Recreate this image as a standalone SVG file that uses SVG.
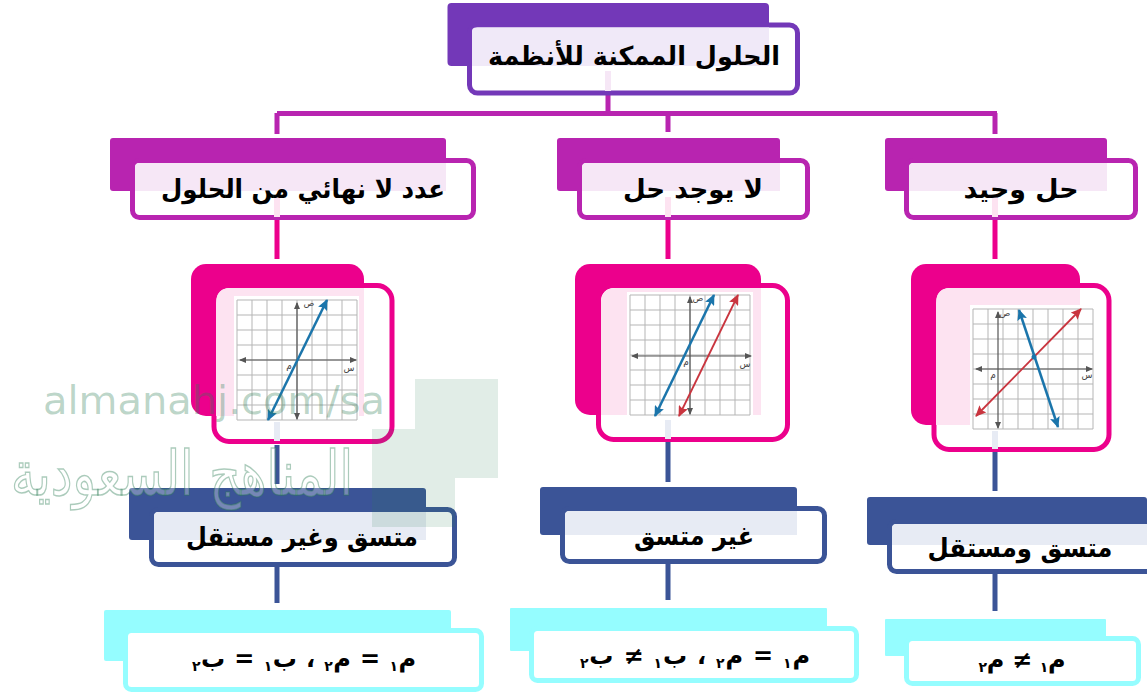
<svg xmlns="http://www.w3.org/2000/svg" width="1147" height="694" viewBox="0 0 1147 694">
<style>
text{font-family:"DejaVu Sans",sans-serif;font-weight:700;fill:#000;text-anchor:middle;direction:rtl}
.lbl{font-size:26px}
.eq{font-size:24px}
.sub{font-size:14px}
.p{fill:#7338b8}.pt{fill:#f0e9f8}.ps{stroke:#7338b8}
.m{fill:#b824b0}.mt{fill:#f6e7f6}.ms{stroke:#b824b0}
.k{fill:#ec008c}.kt{fill:#fde3f1}.ks{stroke:#ec008c}
.b{fill:#3b5497}.bt{fill:#e7ebf4}.bs{stroke:#3b5497}
.c{fill:#95fdff}.cs{stroke:#95fdff}
.fr{fill:#fff;stroke-width:5}
.conn{fill:none;stroke-width:5}
.grid{stroke:#b5b5b5;stroke-width:1;fill:none}
.axis{stroke:#555;stroke-width:1.2;fill:none;marker-start:url(#ga);marker-end:url(#ga)}
.lb{stroke:#1b75ab;stroke-width:2.500;fill:none;marker-start:url(#ba);marker-end:url(#ba)}
.lr{stroke:#c9353f;stroke-width:1.800;fill:none;marker-start:url(#ra);marker-end:url(#ra)}
.gl{font-size:9px;fill:#444;font-weight:400}
</style>
<defs>
<marker id="ga" markerWidth="8" markerHeight="6" refX="6" refY="3" orient="auto-start-reverse" markerUnits="userSpaceOnUse"><path d="M0 0L7 3L0 6z" fill="#555"/></marker>
<marker id="ba" markerWidth="12" markerHeight="10" refX="10" refY="5" orient="auto-start-reverse" markerUnits="userSpaceOnUse"><path d="M0 0L11 5L0 10L2 5z" fill="#1b75ab"/></marker>
<marker id="ra" markerWidth="12" markerHeight="10" refX="10" refY="5" orient="auto-start-reverse" markerUnits="userSpaceOnUse"><path d="M0 0L11 5L0 10L2 5z" fill="#c9353f"/></marker>
<g id="gridlines">
<path class="grid" d="M0 0H120M0 15H120M0 30H120M0 45H120M0 60H120M0 75H120M0 90H120M0 105H120M0 120H120M0 0V120M15 0V120M30 0V120M45 0V120M60 0V120M75 0V120M90 0V120M105 0V120M120 0V120"/>
</g>
</defs>

<g id="connectors">
<path class="conn ms" d="M608 94V113M277 113.500H997M277 113V134M668 113V132M995 113V134"/>
<path class="conn ks" d="M277 219V259M668 219V259M995 219V259"/>
<path class="conn bs" d="M277 445V484M668 442V482M995 451V491M277 565V603M668 563V600M995 573V611"/>
</g>

<g id="node-root">
<rect class="p" x="447.500" y="3" width="321.500" height="63" rx="4"/>
<rect class="fr ps" x="469.500" y="25" width="328" height="68" rx="8"/>
<path class="pt" d="M476 27.500H769V66H472V31Q472 27.500 476 27.500z"/>
<rect x="605" y="71" width="6" height="20" fill="#f6e7f6"/>
<text class="lbl" x="634" y="65" textLength="292" lengthAdjust="spacingAndGlyphs">الحلول الممكنة للأنظمة</text>
</g>

<g id="node-infinite">
<rect class="m" x="110" y="138" width="336" height="53" rx="3"/>
<rect class="fr ms" x="132.500" y="160.500" width="341" height="57" rx="7"/>
<path class="mt" d="M139 163H446V191H135V167Q135 163 139 163z"/>
<rect x="274" y="197" width="6" height="20" fill="#fde3f1"/>
<text class="lbl" x="303" y="198" textLength="284" lengthAdjust="spacingAndGlyphs">عدد لا نهائي من الحلول</text>
</g>

<g id="node-none">
<rect class="m" x="557" y="138" width="223" height="53" rx="3"/>
<rect class="fr ms" x="579.500" y="160.500" width="228" height="57" rx="7"/>
<path class="mt" d="M586 163H780V191H582V167Q582 163 586 163z"/>
<rect x="665" y="197" width="6" height="20" fill="#fde3f1"/>
<text class="lbl" x="693" y="198" textLength="140" lengthAdjust="spacingAndGlyphs">لا يوجد حل</text>
</g>

<g id="node-unique">
<rect class="m" x="885" y="138" width="222" height="53" rx="3"/>
<rect class="fr ms" x="906.500" y="160.500" width="229" height="57" rx="7"/>
<path class="mt" d="M913 163H1107V191H909V167Q909 163 913 163z"/>
<rect x="992" y="197" width="6" height="20" fill="#fde3f1"/>
<text class="lbl" x="1021" y="198" textLength="115" lengthAdjust="spacingAndGlyphs">حل وحيد</text>
</g>

<g id="graph-left">
<rect class="k" x="191" y="264" width="173" height="152" rx="15"/>
<rect class="fr ks" x="214" y="285.500" width="178" height="156" rx="15"/>
<path class="kt" d="M231 288H364V416H216V303Q216 288 231 288z"/>
<rect x="234" y="296" width="125" height="125" fill="#fff"/>
<use href="#gridlines" x="237" y="300"/>
<path class="axis" d="M240 360H356"/>
<path class="axis" d="M297 303V419"/>
<path class="lb" d="M268 420L327 300"/>
<text class="gl" x="289" y="369">م</text><text class="gl" x="309" y="306">ص</text><text class="gl" x="349" y="371">س</text>
<rect x="274" y="422" width="6" height="19" fill="#e7ebf4"/>
</g>

<g id="graph-middle">
<rect class="k" x="575" y="264" width="186" height="151" rx="15"/>
<rect class="fr ks" x="598.500" y="285.500" width="189" height="154" rx="15"/>
<path class="kt" d="M616 288H761V415H601V303Q601 288 616 288z"/>
<rect x="627" y="292" width="126" height="126" fill="#fff"/>
<use href="#gridlines" x="630" y="295"/>
<path class="axis" d="M632 356H751"/>
<path class="axis" d="M690 297V414"/>
<path class="lb" d="M655 416L714 295"/>
<path class="lr" d="M679 416L738 295"/>
<text class="gl" x="686" y="365">م</text><text class="gl" x="698" y="301">ص</text><text class="gl" x="745" y="367">س</text>
<rect x="665" y="420" width="6" height="19" fill="#e7ebf4"/>
</g>

<g id="graph-right">
<rect class="k" x="911" y="264" width="169" height="161" rx="15"/>
<rect class="fr ks" x="934" y="285.500" width="175" height="164" rx="15"/>
<path class="kt" d="M951 288H1080V425H936V303Q936 288 951 288z"/>
<rect x="970" y="305" width="125" height="125" fill="#fff"/>
<use href="#gridlines" x="973" y="309"/>
<path class="axis" d="M976 369H1092"/>
<path class="axis" d="M998 312V428"/>
<path class="lr" d="M976 416L1081 309"/>
<path class="lb" d="M1019 310L1058 427"/>
<circle cx="1034" cy="357" r="2.500" fill="#1b75ab"/>
<text class="gl" x="993" y="378">م</text><text class="gl" x="1005" y="316">ص</text><text class="gl" x="1087" y="378">س</text>
<rect x="992" y="431" width="6" height="18" fill="#e7ebf4"/>
</g>

<g id="node-dependent">
<rect class="b" x="129" y="488" width="297" height="52" rx="3"/>
<rect class="fr bs" x="151.500" y="509.500" width="303" height="55" rx="7"/>
<path class="bt" d="M158 512H426V540H154V516Q154 512 158 512z"/>
<text class="lbl" x="302" y="546" textLength="232" lengthAdjust="spacingAndGlyphs">متسق وغير مستقل</text>
</g>

<g id="node-inconsistent">
<rect class="b" x="540" y="487" width="257" height="48" rx="3"/>
<rect class="fr bs" x="562.500" y="508.500" width="262" height="53" rx="7"/>
<path class="bt" d="M569 511H797V535H565V515Q565 511 569 511z"/>
<text class="lbl" x="694" y="545" textLength="120" lengthAdjust="spacingAndGlyphs">غير متسق</text>
</g>

<g id="node-independent">
<rect class="b" x="867" y="497" width="280" height="48" rx="3"/>
<rect class="fr bs" x="889.500" y="521.500" width="270" height="50" rx="7"/>
<path class="bt" d="M896 524H1147V545H892V528Q892 524 896 524z"/>
<text class="lbl" x="1020" y="557" textLength="185" lengthAdjust="spacingAndGlyphs">متسق ومستقل</text>
</g>

<g id="node-eq-left">
<rect class="c" x="104" y="610" width="347" height="51" rx="2"/>
<rect class="fr cs" x="125.500" y="630.500" width="356" height="59" rx="6"/>
<text class="eq" x="304" y="667" textLength="224" lengthAdjust="spacing">م<tspan class="sub" dy="4">١</tspan><tspan dy="-4"> = م</tspan><tspan class="sub" dy="4">٢</tspan><tspan dy="-4">  ،  ب</tspan><tspan class="sub" dy="4">١</tspan><tspan dy="-4"> = ب</tspan><tspan class="sub" dy="4">٢</tspan></text>
</g>

<g id="node-eq-middle">
<rect class="c" x="510" y="608" width="317" height="43" rx="1"/>
<rect class="fr cs" x="531.500" y="628.500" width="325" height="52" rx="6"/>
<text class="eq" x="695" y="664" textLength="230" lengthAdjust="spacing">م<tspan class="sub" dy="4">١</tspan><tspan dy="-4"> = م</tspan><tspan class="sub" dy="4">٢</tspan><tspan dy="-4">  ،  ب</tspan><tspan class="sub" dy="4">١</tspan><tspan dy="-4"> ≠ ب</tspan><tspan class="sub" dy="4">٢</tspan></text>
</g>

<g id="node-eq-right">
<rect class="c" x="885" y="619" width="221" height="37" rx="1"/>
<rect class="fr cs" x="906.500" y="638.500" width="232" height="45" rx="6"/>
<text class="eq" x="1022" y="668" textLength="87" lengthAdjust="spacing">م<tspan class="sub" dy="4">١</tspan><tspan dy="-4"> ≠ م</tspan><tspan class="sub" dy="4">٢</tspan></text>
</g>

<g id="watermark">
<path d="M415 379H498V478H455V527H372V429H415z" fill="#2e7d55" fill-opacity=".14"/>
<text x="214" y="414" style="direction:ltr;font-family:'DejaVu Sans',sans-serif;font-weight:400;font-size:39px;fill:#2e7d55;fill-opacity:.32" textLength="342" lengthAdjust="spacingAndGlyphs">almanahj.com/sa</text>
<text x="182" y="495" style="font-size:62px;font-weight:400;fill:#fff;fill-opacity:.3;stroke:#2e7d55;stroke-opacity:.4;stroke-width:1.500" textLength="342" lengthAdjust="spacingAndGlyphs">المناهج السعودية</text>
</g>
</svg>
